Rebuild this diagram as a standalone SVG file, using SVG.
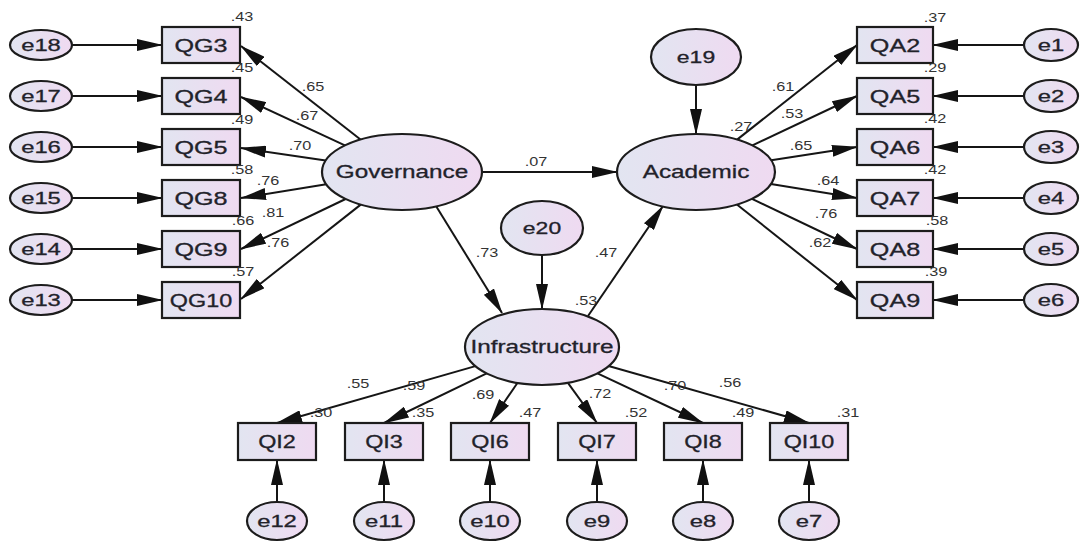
<svg xmlns="http://www.w3.org/2000/svg" width="1080" height="542" viewBox="0 0 1080 542">
<defs>
<linearGradient id="g" x1="0" y1="0" x2="1" y2="0">
<stop offset="0" stop-color="#e2e5f1"/>
<stop offset="1" stop-color="#efdaf1"/>
</linearGradient>
<marker id="ah" markerUnits="userSpaceOnUse" markerWidth="26" markerHeight="12" viewBox="0 0 26 12" refX="25" refY="6" orient="auto">
<path d="M0,0 L26,6 L0,12 Z" fill="#111"/>
</marker>
<style>
.n{fill:url(#g);stroke:#1c1c1c;stroke-width:2.2}
.t{font-family:"Liberation Sans",Arial,sans-serif;font-size:17px;fill:#22222a;stroke:#22222a;stroke-width:0.3;text-anchor:middle}
.q{font-size:18px}
.b{font-size:18px}
.l{font-family:"Liberation Sans",Arial,sans-serif;font-size:12.5px;fill:#333;text-anchor:middle}
.c line{stroke:#151515;stroke-width:2;marker-end:url(#ah)}
</style>
</defs>
<rect width="1080" height="542" fill="#fff"/>

<g class="c" id="connectors">
<line x1="72" y1="45" x2="162" y2="45"/>
<line x1="72" y1="96" x2="162" y2="96"/>
<line x1="72" y1="147" x2="162" y2="147"/>
<line x1="72" y1="198" x2="162" y2="198"/>
<line x1="72" y1="249" x2="162" y2="249"/>
<line x1="72" y1="300" x2="162" y2="300"/>
<line x1="1024" y1="45" x2="933" y2="45"/>
<line x1="1024" y1="96" x2="933" y2="96"/>
<line x1="1024" y1="147" x2="933" y2="147"/>
<line x1="1024" y1="198" x2="933" y2="198"/>
<line x1="1024" y1="249" x2="933" y2="249"/>
<line x1="1024" y1="300" x2="933" y2="300"/>
<line x1="277" y1="502" x2="277" y2="460"/>
<line x1="384" y1="502" x2="384" y2="460"/>
<line x1="490" y1="502" x2="490" y2="460"/>
<line x1="597" y1="502" x2="597" y2="460"/>
<line x1="703" y1="502" x2="703" y2="460"/>
<line x1="809" y1="502" x2="809" y2="460"/>
<line x1="360.5" y1="139.5" x2="241" y2="46"/>
<line x1="344.9" y1="145.4" x2="241" y2="97"/>
<line x1="325.7" y1="160.6" x2="241" y2="148"/>
<line x1="326.3" y1="184.2" x2="241" y2="198"/>
<line x1="345.6" y1="199" x2="241" y2="249"/>
<line x1="360.7" y1="204.6" x2="241" y2="299"/>
<line x1="737.1" y1="139.6" x2="857" y2="45"/>
<line x1="752.4" y1="145.4" x2="857" y2="96"/>
<line x1="771.2" y1="160.3" x2="857" y2="147"/>
<line x1="770.9" y1="184.1" x2="857" y2="198"/>
<line x1="752" y1="198.8" x2="857" y2="249"/>
<line x1="736.9" y1="204.5" x2="857" y2="300"/>
<line x1="475.4" y1="366.1" x2="277" y2="423"/>
<line x1="486.7" y1="373.4" x2="384" y2="423"/>
<line x1="517.4" y1="383" x2="490" y2="423"/>
<line x1="567.9" y1="382.8" x2="597" y2="423"/>
<line x1="597.5" y1="373.3" x2="703" y2="423"/>
<line x1="608.6" y1="366" x2="809" y2="423"/>
<line x1="482" y1="172" x2="617" y2="172"/>
<line x1="436" y1="206" x2="502" y2="313"/>
<line x1="588" y1="316" x2="663" y2="206"/>
<line x1="696" y1="85" x2="696" y2="134"/>
<line x1="542" y1="255" x2="542" y2="309"/>
</g>

<g id="Governance"><ellipse class="n" cx="402" cy="172" rx="80" ry="38"/><text class="t b" transform="translate(402,178) scale(1.35,1)">Governance</text></g>
<g id="Academic"><ellipse class="n" cx="696" cy="172" rx="79" ry="38"/><text class="t b" transform="translate(696,178) scale(1.35,1)">Academic</text></g>
<g id="Infrastructure"><ellipse class="n" cx="542" cy="347" rx="77" ry="38"/><text class="t b" transform="translate(542,353) scale(1.35,1)">Infrastructure</text></g>
<g id="e19"><ellipse class="n" cx="696" cy="57" rx="45" ry="28"/><text class="t" transform="translate(696,63) scale(1.35,1)">e19</text></g>
<g id="e20"><ellipse class="n" cx="542" cy="228" rx="41" ry="27"/><text class="t" transform="translate(542,234) scale(1.35,1)">e20</text></g>

<g id="QG3"><rect class="n" x="162" y="27" width="78" height="36"/><text class="t q" transform="translate(201,51.5) scale(1.4,1)">QG3</text></g>
<g id="QG4"><rect class="n" x="162" y="78" width="78" height="36"/><text class="t q" transform="translate(201,102.5) scale(1.4,1)">QG4</text></g>
<g id="QG5"><rect class="n" x="162" y="129" width="78" height="36"/><text class="t q" transform="translate(201,153.5) scale(1.4,1)">QG5</text></g>
<g id="QG8"><rect class="n" x="162" y="180" width="78" height="36"/><text class="t q" transform="translate(201,204.5) scale(1.4,1)">QG8</text></g>
<g id="QG9"><rect class="n" x="162" y="231" width="78" height="36"/><text class="t q" transform="translate(201,255.5) scale(1.4,1)">QG9</text></g>
<g id="QG10"><rect class="n" x="162" y="282" width="78" height="36"/><text class="t q" transform="translate(201,306.5) scale(1.3,1)">QG10</text></g>

<g id="QA2"><rect class="n" x="857" y="27" width="76" height="36"/><text class="t q" transform="translate(895,51.5) scale(1.4,1)">QA2</text></g>
<g id="QA5"><rect class="n" x="857" y="78" width="76" height="36"/><text class="t q" transform="translate(895,102.5) scale(1.4,1)">QA5</text></g>
<g id="QA6"><rect class="n" x="857" y="129" width="76" height="36"/><text class="t q" transform="translate(895,153.5) scale(1.4,1)">QA6</text></g>
<g id="QA7"><rect class="n" x="857" y="180" width="76" height="36"/><text class="t q" transform="translate(895,204.5) scale(1.4,1)">QA7</text></g>
<g id="QA8"><rect class="n" x="857" y="231" width="76" height="36"/><text class="t q" transform="translate(895,255.5) scale(1.4,1)">QA8</text></g>
<g id="QA9"><rect class="n" x="857" y="282" width="76" height="36"/><text class="t q" transform="translate(895,306.5) scale(1.4,1)">QA9</text></g>

<g id="QI2"><rect class="n" x="238" y="423" width="78" height="37"/><text class="t q" transform="translate(277,448) scale(1.3,1)">QI2</text></g>
<g id="QI3"><rect class="n" x="345" y="423" width="78" height="37"/><text class="t q" transform="translate(384,448) scale(1.3,1)">QI3</text></g>
<g id="QI6"><rect class="n" x="451" y="423" width="78" height="37"/><text class="t q" transform="translate(490,448) scale(1.3,1)">QI6</text></g>
<g id="QI7"><rect class="n" x="558" y="423" width="78" height="37"/><text class="t q" transform="translate(597,448) scale(1.3,1)">QI7</text></g>
<g id="QI8"><rect class="n" x="664" y="423" width="78" height="37"/><text class="t q" transform="translate(703,448) scale(1.3,1)">QI8</text></g>
<g id="QI10"><rect class="n" x="770" y="423" width="78" height="37"/><text class="t q" transform="translate(809,448) scale(1.3,1)">QI10</text></g>

<g id="e18"><ellipse class="n" cx="41" cy="45" rx="31" ry="15"/><text class="t" transform="translate(41,51) scale(1.4,1)">e18</text></g>
<g id="e17"><ellipse class="n" cx="41" cy="96" rx="31" ry="15"/><text class="t" transform="translate(41,102) scale(1.4,1)">e17</text></g>
<g id="e16"><ellipse class="n" cx="41" cy="147" rx="31" ry="15"/><text class="t" transform="translate(41,153) scale(1.4,1)">e16</text></g>
<g id="e15"><ellipse class="n" cx="41" cy="198" rx="31" ry="15"/><text class="t" transform="translate(41,204) scale(1.4,1)">e15</text></g>
<g id="e14"><ellipse class="n" cx="41" cy="249" rx="31" ry="15"/><text class="t" transform="translate(41,255) scale(1.4,1)">e14</text></g>
<g id="e13"><ellipse class="n" cx="41" cy="300" rx="31" ry="15"/><text class="t" transform="translate(41,306) scale(1.4,1)">e13</text></g>

<g id="e1"><ellipse class="n" cx="1051" cy="45" rx="27" ry="16"/><text class="t" transform="translate(1051,51) scale(1.4,1)">e1</text></g>
<g id="e2"><ellipse class="n" cx="1051" cy="96" rx="27" ry="16"/><text class="t" transform="translate(1051,102) scale(1.4,1)">e2</text></g>
<g id="e3"><ellipse class="n" cx="1051" cy="147" rx="27" ry="16"/><text class="t" transform="translate(1051,153) scale(1.4,1)">e3</text></g>
<g id="e4"><ellipse class="n" cx="1051" cy="198" rx="27" ry="16"/><text class="t" transform="translate(1051,204) scale(1.4,1)">e4</text></g>
<g id="e5"><ellipse class="n" cx="1051" cy="249" rx="27" ry="16"/><text class="t" transform="translate(1051,255) scale(1.4,1)">e5</text></g>
<g id="e6"><ellipse class="n" cx="1051" cy="300" rx="27" ry="16"/><text class="t" transform="translate(1051,306) scale(1.4,1)">e6</text></g>

<g id="e12"><ellipse class="n" cx="277" cy="521" rx="30" ry="19"/><text class="t" transform="translate(277,527) scale(1.4,1)">e12</text></g>
<g id="e11"><ellipse class="n" cx="384" cy="521" rx="30" ry="19"/><text class="t" transform="translate(384,527) scale(1.4,1)">e11</text></g>
<g id="e10"><ellipse class="n" cx="490" cy="521" rx="30" ry="19"/><text class="t" transform="translate(490,527) scale(1.4,1)">e10</text></g>
<g id="e9"><ellipse class="n" cx="597" cy="521" rx="30" ry="19"/><text class="t" transform="translate(597,527) scale(1.4,1)">e9</text></g>
<g id="e8"><ellipse class="n" cx="703" cy="521" rx="30" ry="19"/><text class="t" transform="translate(703,527) scale(1.4,1)">e8</text></g>
<g id="e7"><ellipse class="n" cx="809" cy="521" rx="30" ry="19"/><text class="t" transform="translate(809,527) scale(1.4,1)">e7</text></g>

<g id="labels">
<text class="l" transform="translate(242,21) scale(1.3,1)">.43</text>
<text class="l" transform="translate(242,72) scale(1.3,1)">.45</text>
<text class="l" transform="translate(242,124) scale(1.3,1)">.49</text>
<text class="l" transform="translate(242,174) scale(1.3,1)">.58</text>
<text class="l" transform="translate(243,225) scale(1.3,1)">.66</text>
<text class="l" transform="translate(243,276) scale(1.3,1)">.57</text>
<text class="l" transform="translate(313,91) scale(1.3,1)">.65</text>
<text class="l" transform="translate(307,120) scale(1.3,1)">.67</text>
<text class="l" transform="translate(300,150) scale(1.3,1)">.70</text>
<text class="l" transform="translate(268,185) scale(1.3,1)">.76</text>
<text class="l" transform="translate(273,217) scale(1.3,1)">.81</text>
<text class="l" transform="translate(278,247) scale(1.3,1)">.76</text>
<text class="l" transform="translate(935,22) scale(1.3,1)">.37</text>
<text class="l" transform="translate(935,72) scale(1.3,1)">.29</text>
<text class="l" transform="translate(935,123) scale(1.3,1)">.42</text>
<text class="l" transform="translate(935,174) scale(1.3,1)">.42</text>
<text class="l" transform="translate(937,225) scale(1.3,1)">.58</text>
<text class="l" transform="translate(936,276) scale(1.3,1)">.39</text>
<text class="l" transform="translate(783,91) scale(1.3,1)">.61</text>
<text class="l" transform="translate(792,118) scale(1.3,1)">.53</text>
<text class="l" transform="translate(801,150) scale(1.3,1)">.65</text>
<text class="l" transform="translate(741,131) scale(1.3,1)">.27</text>
<text class="l" transform="translate(828,185) scale(1.3,1)">.64</text>
<text class="l" transform="translate(826,218) scale(1.3,1)">.76</text>
<text class="l" transform="translate(820,247) scale(1.3,1)">.62</text>
<text class="l" transform="translate(536,166) scale(1.3,1)">.07</text>
<text class="l" transform="translate(487,257) scale(1.3,1)">.73</text>
<text class="l" transform="translate(606,257) scale(1.3,1)">.47</text>
<text class="l" transform="translate(586,305) scale(1.3,1)">.53</text>
<text class="l" transform="translate(358,388) scale(1.3,1)">.55</text>
<text class="l" transform="translate(414,390) scale(1.3,1)">.59</text>
<text class="l" transform="translate(483,399) scale(1.3,1)">.69</text>
<text class="l" transform="translate(600,398) scale(1.3,1)">.72</text>
<text class="l" transform="translate(675,390) scale(1.3,1)">.70</text>
<text class="l" transform="translate(730,387) scale(1.3,1)">.56</text>
<text class="l" transform="translate(321,417) scale(1.3,1)">.30</text>
<text class="l" transform="translate(423,417) scale(1.3,1)">.35</text>
<text class="l" transform="translate(530,417) scale(1.3,1)">.47</text>
<text class="l" transform="translate(636,417) scale(1.3,1)">.52</text>
<text class="l" transform="translate(743,417) scale(1.3,1)">.49</text>
<text class="l" transform="translate(848,417) scale(1.3,1)">.31</text>
</g>
</svg>
